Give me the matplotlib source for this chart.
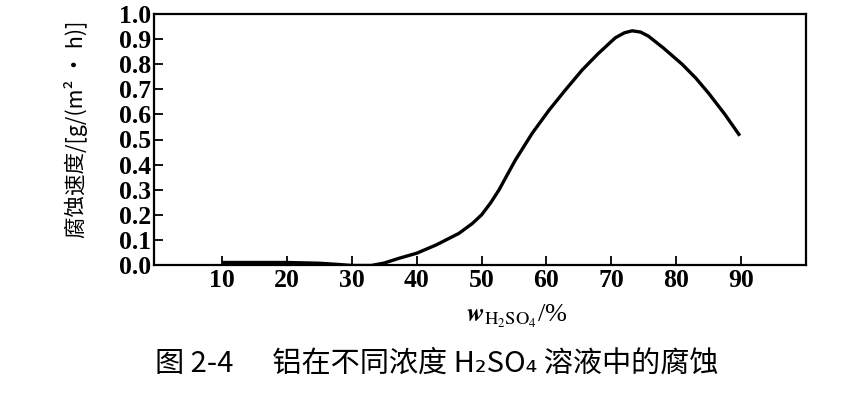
import matplotlib
matplotlib.use('Agg')
import matplotlib.pyplot as plt

plt.rcParams['mathtext.fontset'] = 'stix'

# 硫酸浓度 / %  与  腐蚀速度 g/(m2 h)
conc = [10, 15, 20, 25, 28, 30, 33, 35, 37.3, 40, 43, 46.5, 48.6, 50, 51.4, 52.7, 53.9,
        55.2, 57.8, 60.4, 62.9, 65.5, 68, 70.6, 72, 73.2, 74.5, 75.7, 78, 80.9, 83, 85,
        87.5, 89.8]
rate = [0.010, 0.010, 0.010, 0.007, 0.002, -0.002, -0.002, 0.008, 0.027, 0.047, 0.080,
        0.126, 0.166, 0.200, 0.248, 0.300, 0.357, 0.418, 0.525, 0.617, 0.697, 0.777,
        0.843, 0.905, 0.925, 0.933, 0.928, 0.912, 0.865, 0.800, 0.745, 0.684, 0.600,
        0.515]

xticks = [10, 20, 30, 40, 50, 60, 70, 80, 90]
yticks = [0.0, 0.1, 0.2, 0.3, 0.4, 0.5, 0.6, 0.7, 0.8, 0.9, 1.0]

fig = plt.figure(figsize=(8.41, 3.93), dpi=100)
ax = fig.add_axes([154/841, 1-265/393, 652/841, 251/393])

ax.plot(conc, rate, color='black', lw=2.4, solid_capstyle='butt')

ax.set_xlim(-0.5, 100)
ax.set_ylim(0, 1.0)
ax.set_xticks(xticks)
ax.set_yticks(yticks)
ax.set_xticklabels([str(t) for t in xticks], fontfamily='Liberation Serif', fontsize=18.5, fontweight='bold')
ax.set_yticklabels(['%.1f' % t for t in yticks], fontfamily='Liberation Serif', fontsize=18.5, fontweight='bold')
ax.tick_params(direction='in', length=6.5, width=1.3, pad=3)
ax.tick_params(axis='y', pad=2)
for s in ax.spines.values():
    s.set_linewidth(1.6)

ax.set_xlabel(r'$\boldsymbol{w}_{\mathrm{H_2SO_4}}$/%', fontsize=19, fontfamily='Liberation Serif')
ax.xaxis.set_label_coords((517-154)/652, -0.15)

ax.set_ylabel('腐蚀速度/[g/(m² · h)]', fontsize=15.5,
              family=['Noto Sans CJK SC', 'DejaVu Sans'])
ax.yaxis.set_label_coords(-(154-88)/652, 0.54)

fig.text(437/841, 1-364/393, '图 2-4      铝在不同浓度 H₂SO₄ 溶液中的腐蚀', fontsize=21,
         family=['Noto Sans CJK SC', 'DejaVu Sans'], ha='center', va='center')

fig.savefig('out.png', dpi=100)
